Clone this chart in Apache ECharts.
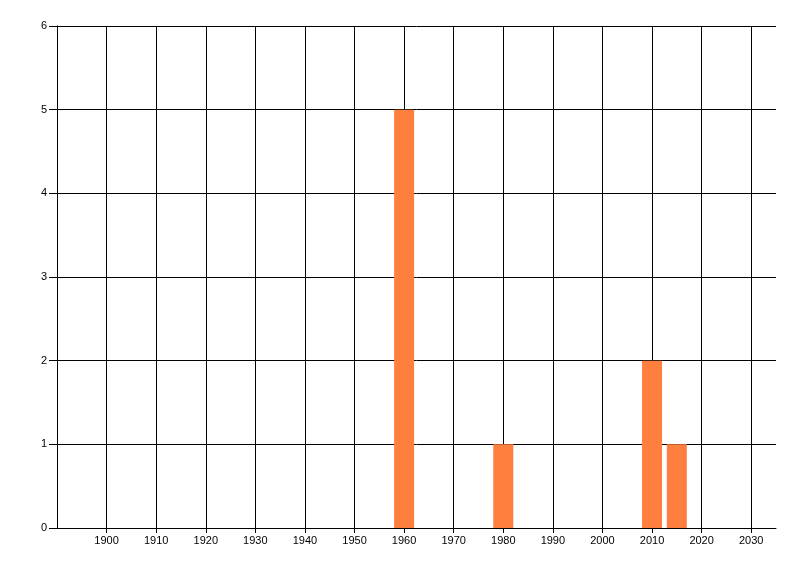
<!DOCTYPE html>
<html><head><meta charset="utf-8">
<script src="https://cdn.jsdelivr.net/npm/echarts@6/dist/echarts.min.js"></script>
<style>html,body{margin:0;padding:0;background:#fff}#c{width:800px;height:576px}</style>
</head><body><div id="c"></div>
<script>
const years = [1960, 1980, 2010, 2015];
const counts = [5, 1, 2, 1];
const xTicks = [1900,1910,1920,1930,1940,1950,1960,1970,1980,1990,2000,2010,2020,2030];
const yTicks = [0,1,2,3,4,5,6];

const chart = echarts.init(document.getElementById('c'), null, {renderer:'canvas'});
const font = {fontFamily:'"Liberation Sans", Arial, sans-serif', fontSize:11, color:'#000'};
chart.setOption({
  animation:false,
  backgroundColor:'#fff',
  grid:{left:57, right:24, top:26, bottom:48, containLabel:false},
  xAxis:{
    type:'value', min:1890, max:2035, interval:10,
    axisLine:{show:true, lineStyle:{color:'#000', width:1}},
    axisTick:{show:true, length:5, lineStyle:{color:'#000'}, customValues: xTicks},
    axisLabel:Object.assign({margin:7, customValues: xTicks, formatter: v => String(v)}, font),
    splitLine:{show:true, lineStyle:{color:'#000', width:1}}
  },
  yAxis:{
    type:'value', min:0, max:6, interval:1,
    axisLine:{show:true, lineStyle:{color:'#000', width:1}},
    axisTick:{show:true, length:8, lineStyle:{color:'#000'}, customValues: yTicks},
    axisLabel:Object.assign({margin:10, customValues: yTicks, formatter: v => String(v)}, font),
    splitLine:{show:true, lineStyle:{color:'#000', width:1}}
  },
  series:[{
    type:'bar',
    data: years.map((y,i)=>[y, counts[i]]),
    barWidth:20,
    itemStyle:{color:'#FF7F3F'}
  }]
});
</script></body></html>
